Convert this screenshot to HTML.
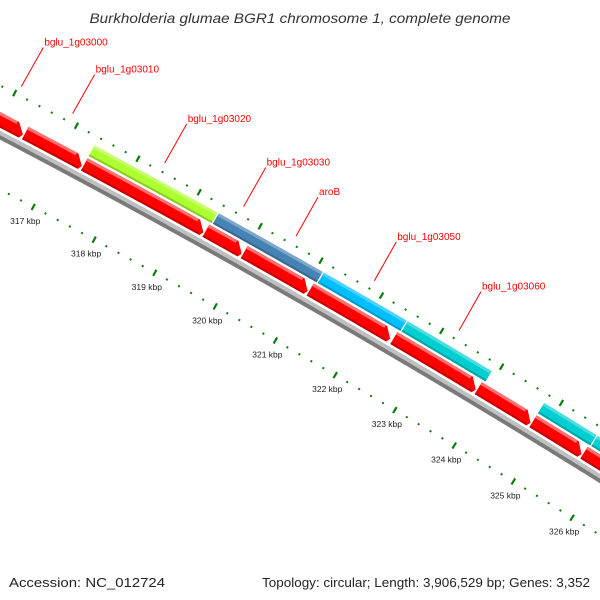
<!DOCTYPE html>
<html><head><meta charset="utf-8"><style>
html,body{margin:0;padding:0;background:#fff;}
svg{display:block;font-family:"Liberation Sans",sans-serif;}
</style></head><body>
<svg id="chart" width="600" height="600" viewBox="0 0 600 600">
<text x="300" y="23" text-anchor="middle" font-size="14" font-style="italic" fill="#333" textLength="421" lengthAdjust="spacingAndGlyphs">Burkholderia glumae BGR1 chromosome 1, complete genome</text>
<g id="map"></g>
<text x="9" y="587" font-size="13" fill="#222" textLength="156" lengthAdjust="spacingAndGlyphs">Accession: NC_012724</text>
<text x="590" y="587" text-anchor="end" font-size="13" fill="#222" textLength="328" lengthAdjust="spacingAndGlyphs">Topology: circular; Length: 3,906,529 bp; Genes: 3,352</text>
</svg>
<script>
// gene data (kbp)
const redStarts = [315.70, 316.40, 317.36, 319.35, 319.98, 321.07, 322.46, 323.87, 324.79, 325.65];
const redEnds   = [316.38, 317.34, 319.33, 319.96, 321.05, 322.42, 323.85, 324.77, 325.63, 326.80];
const redNames  = ["bglu_1g03000", "bglu_1g03010", "", "bglu_1g03030", "aroB", "", "", "", "", ""];
const fwdStarts = [317.36, 319.39, 321.12, 322.51, 324.79, 325.69];
const fwdEnds   = [319.37, 321.10, 322.49, 323.91, 325.67, 326.80];
const fwdColors = ["#adff2f", "#4682b4", "#00bfff", "#00ced1", "#00ced1", "#00ced1"];
const fwdNames  = ["bglu_1g03020", "", "bglu_1g03050", "bglu_1g03060", "", ""];
const tickMin = 315.6, tickMax = 327.6, tickStep = 0.2;
const tickLabels = [317, 318, 319, 320, 321, 322, 323, 324, 325, 326];

const NS = "http://www.w3.org/2000/svg";
const R = 9160.6, CX = -4360, CY = 8191, TH0 = 61.51 * Math.PI / 180;
const ROT = -0.8 * Math.PI / 180, PX = 30, PY = 160;
function sOf(k){ return 52.5 + (k - 317) * 69.5; }
function pt(k, r){
  const th = TH0 - sOf(k) / R;
  const x = CX + (R + r) * Math.cos(th), y = CY - (R + r) * Math.sin(th);
  const dx = x - PX, dy = y - PY;
  return [PX + dx * Math.cos(ROT) - dy * Math.sin(ROT), PY + dx * Math.sin(ROT) + dy * Math.cos(ROT)];
}
const g = document.getElementById("map");
function mk(tag, attrs){ const e = document.createElementNS(NS, tag); for (const a in attrs) e.setAttribute(a, attrs[a]); g.appendChild(e); return e; }
function bandPts(k1, k2, r1, r2){
  const p = []; const n = Math.max(2, Math.ceil((k2 - k1) / 0.02));
  for (let i = 0; i <= n; i++){ p.push(pt(k1 + (k2 - k1) * i / n, r2)); }
  for (let i = n; i >= 0; i--){ p.push(pt(k1 + (k2 - k1) * i / n, r1)); }
  return p;
}
function ptsStr(p){ return p.map(q => q[0].toFixed(2) + "," + q[1].toFixed(2)).join(" "); }

// backbone
let e = mk("polygon", {points: ptsStr(bandPts(315.4, 327.5, 0, 4)), fill: "#c0c0c0"});


e = mk("polygon", {points: ptsStr(bandPts(315.4, 327.5, -4, 0)), fill: "#7a7a7a"});



// reverse-strand red arrows
redStarts.forEach((s, i) => {
  const en = redEnds[i]; const tip = 0.13;
  const top = []; const n = Math.max(2, Math.ceil((en - tip - s) / 0.02));
  for (let j = 0; j <= n; j++) top.push(pt(s + (en - tip - s) * j / n, 20.5));
  const bot = []; for (let j = n; j >= 0; j--) bot.push(pt(s + (en - 0.03 - s) * j / n, 6.6));
  const poly = top.concat([pt(en, 11)], bot);
  const a = mk("polygon", {points: ptsStr(poly), fill: "#ff0000"});
  
  
  const h = mk("polygon", {points: ptsStr(bandPts(s, en - tip - 0.02, 17.5, 20.5)), fill: "#ff7070"});
  
  
  const d = mk("polygon", {points: ptsStr(bandPts(s, en - 0.04, 6.6, 8.6)), fill: "#c40000"});
  
  
});

// forward-strand colored blocks
function lighten(c, f){ const n = parseInt(c.slice(1), 16); let r = n >> 16, gg = (n >> 8) & 255, b = n & 255;
  r = Math.round(r + (255 - r) * f); gg = Math.round(gg + (255 - gg) * f); b = Math.round(b + (255 - b) * f);
  return "rgb(" + r + "," + gg + "," + b + ")"; }
function darken(c, f){ const n = parseInt(c.slice(1), 16); return "rgb(" + Math.round((n >> 16) * f) + "," + Math.round(((n >> 8) & 255) * f) + "," + Math.round((n & 255) * f) + ")"; }
fwdStarts.forEach((s, i) => {
  const en = fwdEnds[i];
  const b = mk("polygon", {points: ptsStr(bandPts(s, en, 23, 35)), fill: fwdColors[i]});
  
  
  const h = mk("polygon", {points: ptsStr(bandPts(s, en, 32, 35)), fill: lighten(fwdColors[i], 0.3)});
  
  
  const d = mk("polygon", {points: ptsStr(bandPts(s, en, 23, 25)), fill: darken(fwdColors[i], 0.8)});
  
  
});

// ticks
const nT = Math.round((tickMax - tickMin) / tickStep);
for (let i = 0; i <= nT; i++){
  const k = tickMin + i * tickStep;
  const major = Math.abs(k - Math.round(k)) < 1e-6;
  [44, -48].forEach(r => {
    const p1 = pt(k, major ? r - 3.5 : r - 1), p2 = pt(k, major ? r + 3.5 : r + 1);
    const t = mk("line", {x1: p1[0], y1: p1[1], x2: p2[0], y2: p2[1], stroke: "#0b7d0b", "stroke-width": major ? 2.2 : 2});
    
    
  });
}
tickLabels.forEach(k => {
  const p = pt(k, -48);
  const t = mk("text", {x: p[0] - 8, y: p[1] + 17, "text-anchor": "middle", "font-size": "8.5", fill: "#222"});
  t.textContent = k + " kbp";
  
  
});

// gene labels
function addLabel(name, k){
  const p = pt(k, 53); const q = [p[0] + 22, p[1] - 39];
  const l = mk("line", {x1: p[0], y1: p[1], x2: q[0], y2: q[1], stroke: "#ff0000", "stroke-width": 1});
  
  
  const t = mk("text", {x: q[0] + 1, y: q[1] - 2, "font-size": "10", fill: "#ff0000"});
  t.textContent = name;
  
  
}
redNames.forEach((n, i) => { if (n) addLabel(n, (redStarts[i] + redEnds[i]) / 2); });
fwdNames.forEach((n, i) => { if (n) addLabel(n, (fwdStarts[i] + fwdEnds[i]) / 2); });
</script>
</body></html>
